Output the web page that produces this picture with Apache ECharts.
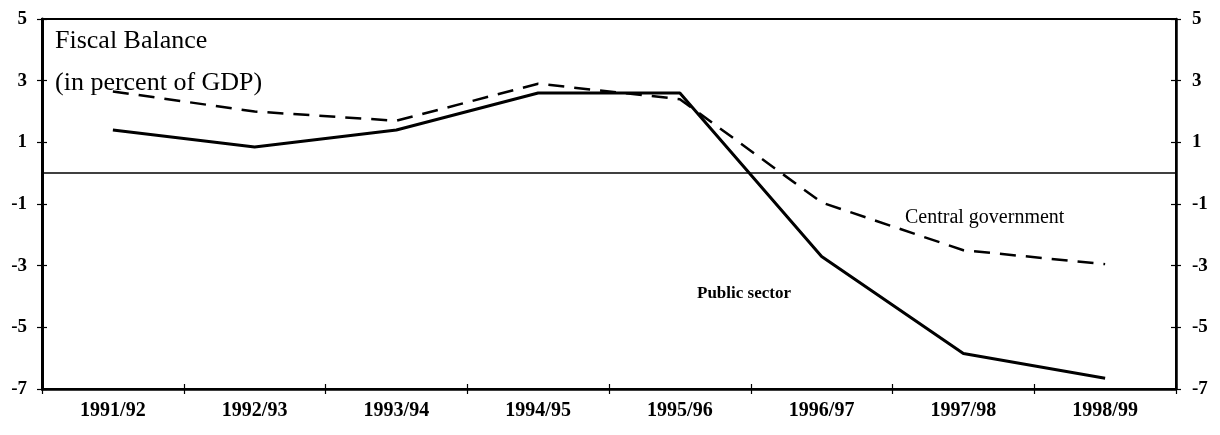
<!DOCTYPE html>
<html>
<head>
<meta charset="utf-8">
<title>Fiscal Balance</title>
<script src="https://cdn.jsdelivr.net/npm/echarts@6/dist/echarts.min.js"></script>
<style>
  html, body { margin: 0; padding: 0; background: #fff; }
  #chart { width: 1220px; height: 435px; }
</style>
</head>
<body>
<div id="chart"></div>
<script>
// Fiscal years on the horizontal axis
const categories = ['1991/92', '1992/93', '1993/94', '1994/95', '1995/96', '1996/97', '1997/98', '1998/99'];

// Fiscal balance, percent of GDP
const publicSector = [1.4, 0.85, 1.4, 2.6, 2.6, -2.7, -5.85, -6.65];
const centralGovernment = [2.65, 2.0, 1.7, 2.9, 2.4, -0.95, -2.5, -2.95];

// Value-axis tick labels (odd numbers from -7 to 5)
const yTicks = [-7, -5, -3, -1, 1, 3, 5];
const yMin = -7;
const yMax = 5;

const serif = "'Liberation Serif', 'Times New Roman', serif";

const chart = echarts.init(document.getElementById('chart'), null, { renderer: 'canvas' });

function valueAxis(position, withLabels, inside) {
  return {
    type: 'value',
    position: position,
    min: yMin,
    max: yMax,
    axisLine: { show: withLabels, onZero: false, lineStyle: { color: '#000', width: position === 'left' ? 3 : 2.5 } },
    axisTick: {
      show: true,
      inside: inside,
      length: 5,
      customValues: yTicks,
      lineStyle: { color: '#000', width: 1.2 }
    },
    axisLabel: {
      show: withLabels,
      customValues: yTicks,
      margin: position === 'left' ? 15 : 16,
      color: '#000',
      fontFamily: serif,
      fontWeight: 'bold',
      fontSize: 19
    },
    splitLine: { show: false }
  };
}

function categoryAxis(withLabels, inside) {
  return {
    type: 'category',
    data: categories,
    position: 'bottom',
    boundaryGap: true,
    axisLine: { show: withLabels, onZero: false, lineStyle: { color: '#000', width: 2.5 } },
    axisTick: { show: true, inside: inside, length: 5, alignWithLabel: false, lineStyle: { color: '#000', width: 1.2 } },
    axisLabel: {
      show: withLabels,
      margin: 12,
      color: '#000',
      fontFamily: serif,
      fontWeight: 'bold',
      fontSize: 20
    },
    splitLine: { show: false }
  };
}

const option = {
  backgroundColor: '#fff',
  animation: false,
  grid: {
    left: 42,
    right: 44,
    top: 19,
    bottom: 46,
    outerBoundsMode: 'none',
    containLabel: false,
    show: true,
    borderColor: '#000',
    borderWidth: 2,
    backgroundColor: 'transparent'
  },
  xAxis: [categoryAxis(true, false), categoryAxis(false, true)],
  yAxis: [
    valueAxis('left', true, false),
    valueAxis('right', true, false),
    valueAxis('left', false, true),
    valueAxis('right', false, true)
  ],
  graphic: [
    {
      type: 'text',
      left: 55,
      top: 20,
      style: {
        text: 'Fiscal Balance\n(in percent of GDP)',
        fill: '#000',
        font: '26px ' + serif,
        lineHeight: 42
      }
    },
    {
      type: 'text',
      left: 905,
      top: 208,
      style: {
        text: 'Central government',
        fill: '#000',
        font: '20px ' + serif
      }
    },
    {
      type: 'text',
      left: 697,
      top: 285,
      style: {
        text: 'Public sector',
        fill: '#000',
        font: 'bold 17px ' + serif
      }
    }
  ],
  series: [
    {
      name: 'Public sector',
      type: 'line',
      data: publicSector,
      xAxisIndex: 0,
      yAxisIndex: 0,
      symbol: 'none',
      lineStyle: { color: '#000', width: 3, type: 'solid' },
      markLine: {
        silent: true,
        symbol: 'none',
        label: { show: false },
        lineStyle: { color: '#000', width: 1.5, type: 'solid' },
        data: [{ yAxis: 0 }]
      },
      z: 3
    },
    {
      name: 'Central government',
      type: 'line',
      data: centralGovernment,
      xAxisIndex: 0,
      yAxisIndex: 0,
      symbol: 'none',
      lineStyle: { color: '#000', width: 2.5, type: [16, 10] },
      z: 2
    }
  ]
};

chart.setOption(option);
</script>
</body>
</html>
